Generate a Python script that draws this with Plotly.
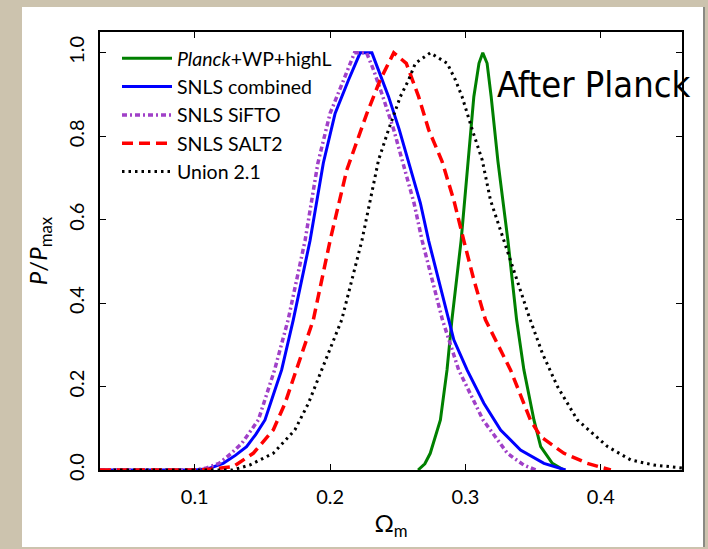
import plotly.graph_objects as go

# Normalised posterior P/Pmax versus Omega_m for each data set
planck_om = [0.265, 0.270, 0.274, 0.2815, 0.2864, 0.290, 0.2968, 0.3018, 0.3062, 0.3100, 0.3128,
             0.3160, 0.3190, 0.3240, 0.3314, 0.3378, 0.3432, 0.3506, 0.3556, 0.3642, 0.3726]
planck_p = [0.0, 0.015, 0.04, 0.12, 0.24, 0.36, 0.55, 0.74, 0.895, 0.975, 1.0,
            0.975, 0.895, 0.74, 0.55, 0.36, 0.24, 0.12, 0.056, 0.016, 0.0]

comb_om = [0.03, 0.100, 0.110, 0.121, 0.130, 0.1383, 0.145, 0.1519, 0.158, 0.1642, 0.1728, 0.1852,
           0.195, 0.2037, 0.2136, 0.2222, 0.2309, 0.2358, 0.2432, 0.2511, 0.2588, 0.2667, 0.2728,
           0.2877, 0.2914, 0.3012, 0.3136, 0.326, 0.3407, 0.358, 0.374]
comb_p = [0.0, 0.0, 0.003, 0.016, 0.035, 0.056, 0.085, 0.12, 0.18, 0.24, 0.36, 0.55,
          0.736, 0.855, 0.935, 1.0, 1.0, 0.96, 0.895, 0.816, 0.728, 0.64, 0.55,
          0.36, 0.312, 0.24, 0.16, 0.096, 0.048, 0.016, 0.0]

sifto_om = [0.03, 0.100, 0.108, 0.118, 0.127, 0.135, 0.147, 0.153, 0.159, 0.169, 0.1815, 0.191,
            0.200, 0.210, 0.218, 0.227, 0.232, 0.239, 0.247, 0.2545, 0.262, 0.268, 0.283,
            0.295, 0.313, 0.331, 0.343, 0.352]
sifto_p = [0.0, 0.0, 0.004, 0.016, 0.04, 0.065, 0.12, 0.18, 0.24, 0.36, 0.55, 0.736,
           0.855, 0.935, 1.0, 1.0, 0.96, 0.895, 0.816, 0.728, 0.64, 0.55, 0.36,
           0.24, 0.12, 0.04, 0.012, 0.0]

salt2_om = [0.03, 0.104, 0.115, 0.1284, 0.1432, 0.158, 0.1667, 0.1753, 0.1876, 0.200, 0.2123,
            0.2272, 0.237, 0.247, 0.2563, 0.2654, 0.2728, 0.2827, 0.2914, 0.2988, 0.3062,
            0.3148, 0.3333, 0.348, 0.3556, 0.3728, 0.390, 0.4074]
salt2_p = [0.0, 0.0, 0.003, 0.008, 0.04, 0.096, 0.16, 0.24, 0.36, 0.55, 0.719,
           0.855, 0.935, 1.0, 0.975, 0.895, 0.816, 0.74, 0.647, 0.55, 0.456,
           0.36, 0.24, 0.12, 0.08, 0.04, 0.016, 0.0]

union_om = [0.04, 0.128, 0.1407, 0.158, 0.174, 0.184, 0.1938, 0.2086, 0.2235, 0.2358, 0.2432,
            0.2519, 0.258, 0.263, 0.274, 0.2865, 0.2926, 0.2975, 0.305, 0.3124, 0.3185,
            0.3284, 0.3383, 0.347, 0.3568, 0.368, 0.3827, 0.405, 0.4222, 0.439, 0.46]
union_p = [0.0, 0.0, 0.012, 0.04, 0.096, 0.16, 0.24, 0.36, 0.55, 0.743, 0.816,
           0.895, 0.935, 0.975, 1.0, 0.975, 0.935, 0.895, 0.816, 0.743, 0.647,
           0.55, 0.456, 0.368, 0.28, 0.2, 0.12, 0.056, 0.024, 0.012, 0.005]

x_ticks = [0.1, 0.2, 0.3, 0.4]
y_ticks = [0.0, 0.2, 0.4, 0.6, 0.8, 1.0]

FONT = "Lato"

fig = go.Figure()
fig.add_trace(go.Scatter(x=planck_om, y=planck_p, mode="lines", name="<i>Planck</i>+WP+highL",
                         line=dict(color="#008000", width=3)))
fig.add_trace(go.Scatter(x=comb_om, y=comb_p, mode="lines", name="SNLS combined",
                         line=dict(color="#0000FF", width=3)))
fig.add_trace(go.Scatter(x=sifto_om, y=sifto_p, mode="lines", name="SNLS SiFTO",
                         line=dict(color="#A040C8", width=3.5, dash="5px,3px,2px,3px")))
fig.add_trace(go.Scatter(x=salt2_om, y=salt2_p, mode="lines", name="SNLS SALT2",
                         line=dict(color="#FF0000", width=3.5, dash="11px,6px")))
fig.add_trace(go.Scatter(x=union_om, y=union_p, mode="lines", name="Union 2.1",
                         line=dict(color="#000000", width=3, dash="2.5px,4px")))

# plot geometry in pixels
L, R, T, B = 100, 682, 32, 470
W, H = 708, 549
pw, ph = R - L, B - T


def px(xp):
    return (xp - L) / pw


def py(yp):
    return (B - yp) / ph


shapes = [
    dict(type="rect", xref="paper", yref="paper", x0=px(22), x1=px(703), y0=py(547), y1=py(7),
         fillcolor="white", line=dict(width=0), layer="below"),
    dict(type="line", xref="paper", yref="paper", x0=px(704), x1=px(704), y0=py(547), y1=py(7),
         line=dict(color="#8a8a84", width=2), layer="below"),
]

fig.update_layout(
    width=W, height=H,
    margin=dict(l=L, r=W - R, t=T, b=H - B),
    paper_bgcolor="#CCC3AE",
    plot_bgcolor="white",
    shapes=shapes,
    showlegend=True,
    legend=dict(x=px(117), y=py(39), xanchor="left", yanchor="top",
                bgcolor="rgba(0,0,0,0)", borderwidth=0,
                font=dict(family=FONT, size=19.5, color="black"),
                itemwidth=50, tracegroupgap=0),
    font=dict(family=FONT, color="black"),
    annotations=[
        dict(text="After Planck", xref="paper", yref="paper", x=px(495), y=py(85),
             xanchor="left", yanchor="middle", showarrow=False,
             font=dict(family="DejaVu Sans Condensed", size=36, color="black")),
    ],
)

fig.update_xaxes(
    range=[0.03, 0.46], tickvals=x_ticks, ticktext=[f"{v:.1f}" for v in x_ticks],
    ticks="inside", ticklen=6, tickwidth=1, tickcolor="black",
    showline=True, linecolor="black", linewidth=1.5, mirror="ticks",
    showgrid=False, zeroline=False,
    tickfont=dict(family=FONT, size=20), ticklabelstandoff=8,
    title=dict(text="Ω<sub>m</sub>", font=dict(family=FONT, size=24), standoff=8),
)
fig.update_yaxes(
    range=[0.0, 1.05], tickvals=y_ticks, ticktext=[f"{v:.1f}" for v in y_ticks],
    ticks="inside", ticklen=6, tickwidth=1, tickcolor="black",
    showline=True, linecolor="black", linewidth=1.5, mirror="ticks",
    showgrid=False, zeroline=False, tickangle=-90,
    tickfont=dict(family=FONT, size=20), ticklabelstandoff=6,
    title=dict(text="<i>P</i>/<i>P</i><sub>max</sub>", font=dict(family=FONT, size=24), standoff=10),
)

fig.write_html("out.html")
